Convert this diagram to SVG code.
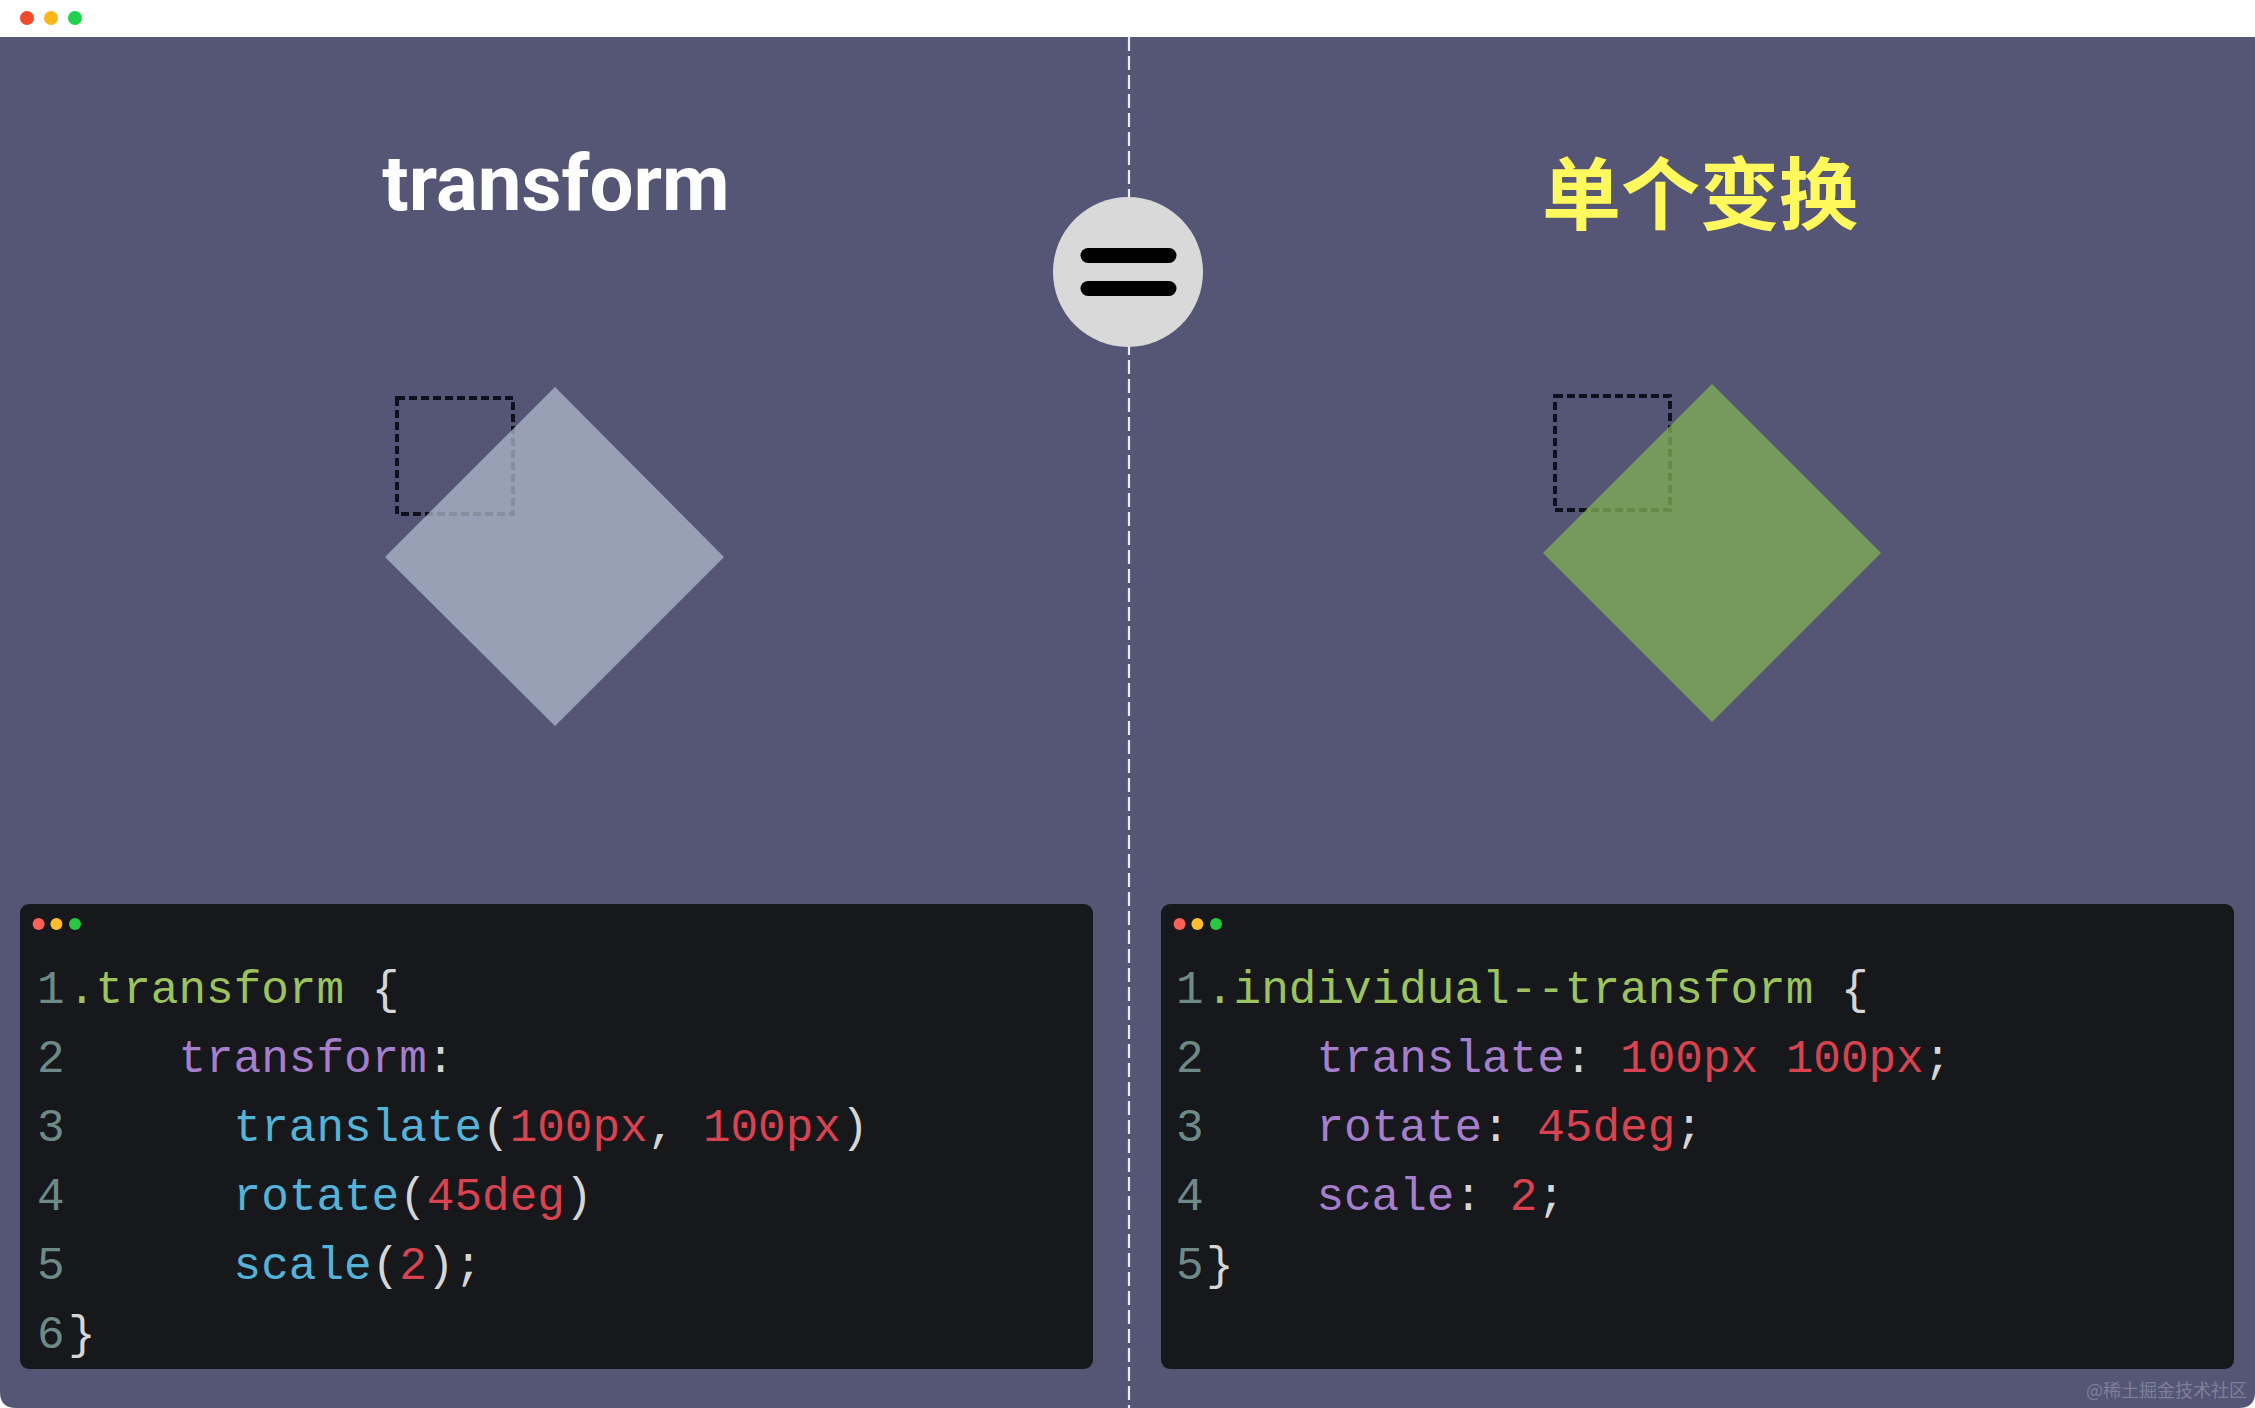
<svg xmlns="http://www.w3.org/2000/svg" width="2255" height="1408" viewBox="0 0 2255 1408">
<style>
.code{font-family:"Liberation Mono","DejaVu Sans Mono",monospace;font-size:46px}
.num{fill:#6e8a88}
.sel{fill:#9cc35e}
.pun{fill:#d6d6d6}
.prop{fill:#a67fcc}
.fn{fill:#55b3d8}
.val{fill:#d9434f}
.panel{fill:#17181b}
.sq{fill:none;stroke:#10111c;stroke-width:4;stroke-dasharray:8 4}
</style>
<rect x="0" y="0" width="2255" height="1408" fill="#ffffff"/>
<path d="M0 37 H2255 V1392 Q2255 1408 2239 1408 H16 Q0 1408 0 1392 Z" fill="#555675"/>
<g id="window-dots">
<circle cx="27" cy="18" r="7" fill="#ee4a2b"/>
<circle cx="51" cy="18" r="7" fill="#f8b619"/>
<circle cx="75" cy="18" r="7" fill="#1fd14b"/>
</g>
<g id="connectors">
<line x1="1129" y1="37" x2="1129" y2="1408" stroke="#eceaf2" stroke-width="2.2" stroke-dasharray="14 5"/>
</g>
<g id="title-left">
<text x="556" y="210" text-anchor="middle" font-family="Roboto, 'Liberation Sans', sans-serif" font-weight="bold" font-size="78" fill="#ffffff">transform</text>
</g>
<g id="title-right">
<text x="1700" y="224" text-anchor="middle" font-family="'Noto Sans CJK SC', 'Noto Sans', sans-serif" font-weight="bold" font-size="79" fill="#fff95e">单个变换</text>
</g>
<g id="equals">
<circle cx="1128" cy="272" r="75" fill="#d9d9d9"/>
<line x1="1088" y1="255.5" x2="1169" y2="255.5" stroke="#000" stroke-width="15" stroke-linecap="round"/>
<line x1="1088" y1="288.5" x2="1169" y2="288.5" stroke="#000" stroke-width="15" stroke-linecap="round"/>
</g>
<g id="shape-left">
<rect class="sq" x="397" y="398" width="116" height="116"/>
<polygon points="555,387 724,557 555,726 385,557" fill="#adbac9" fill-opacity="0.75"/>
</g>
<g id="shape-right">
<rect class="sq" x="1555" y="396" width="115" height="114"/>
<polygon points="1712,384 1881,553 1712,722 1543,553" fill="#81b154" fill-opacity="0.75"/>
</g>
<g id="code-left">
<rect class="panel" x="20" y="904" width="1073" height="465" rx="9"/>
<circle cx="38.6" cy="924" r="6" fill="#fe5f57"/>
<circle cx="56.4" cy="924" r="6" fill="#febc2e"/>
<circle cx="75" cy="924" r="6" fill="#28c840"/>
<g class="code">
<text class="num" x="37" y="1003">1</text>
<text class="num" x="37" y="1072">2</text>
<text class="num" x="37" y="1141">3</text>
<text class="num" x="37" y="1210">4</text>
<text class="num" x="37" y="1279">5</text>
<text class="num" x="37" y="1348">6</text>
<text x="68" y="1003" xml:space="preserve"><tspan class="sel">.transform</tspan><tspan class="pun"> {</tspan></text>
<text x="178.4" y="1072" xml:space="preserve"><tspan class="prop">transform</tspan><tspan class="pun">:</tspan></text>
<text x="233.6" y="1141" xml:space="preserve"><tspan class="fn">translate</tspan><tspan class="pun">(</tspan><tspan class="val">100px</tspan><tspan class="pun">, </tspan><tspan class="val">100px</tspan><tspan class="pun">)</tspan></text>
<text x="233.6" y="1210" xml:space="preserve"><tspan class="fn">rotate</tspan><tspan class="pun">(</tspan><tspan class="val">45deg</tspan><tspan class="pun">)</tspan></text>
<text x="233.6" y="1279" xml:space="preserve"><tspan class="fn">scale</tspan><tspan class="pun">(</tspan><tspan class="val">2</tspan><tspan class="pun">);</tspan></text>
<text x="68" y="1348" class="pun">}</text>
</g>
</g>
<g id="code-right">
<rect class="panel" x="1161" y="904" width="1073" height="465" rx="9"/>
<circle cx="1179.6" cy="924" r="6" fill="#fe5f57"/>
<circle cx="1197.4" cy="924" r="6" fill="#febc2e"/>
<circle cx="1216" cy="924" r="6" fill="#28c840"/>
<g class="code">
<text class="num" x="1176" y="1003">1</text>
<text class="num" x="1176" y="1072">2</text>
<text class="num" x="1176" y="1141">3</text>
<text class="num" x="1176" y="1210">4</text>
<text class="num" x="1176" y="1279">5</text>
<text x="1206" y="1003" xml:space="preserve"><tspan class="sel">.individual--transform</tspan><tspan class="pun"> {</tspan></text>
<text x="1316.4" y="1072" xml:space="preserve"><tspan class="prop">translate</tspan><tspan class="pun">: </tspan><tspan class="val">100px 100px</tspan><tspan class="pun">;</tspan></text>
<text x="1316.4" y="1141" xml:space="preserve"><tspan class="prop">rotate</tspan><tspan class="pun">: </tspan><tspan class="val">45deg</tspan><tspan class="pun">;</tspan></text>
<text x="1316.4" y="1210" xml:space="preserve"><tspan class="prop">scale</tspan><tspan class="pun">: </tspan><tspan class="val">2</tspan><tspan class="pun">;</tspan></text>
<text x="1206" y="1279" class="pun">}</text>
</g>
</g>
<g id="watermark">
<text x="2247" y="1397" text-anchor="end" font-family="'Noto Sans CJK SC', sans-serif" font-size="18" fill="#8a8ba3" fill-opacity="0.8">@稀土掘金技术社区</text>
</g>
</svg>
